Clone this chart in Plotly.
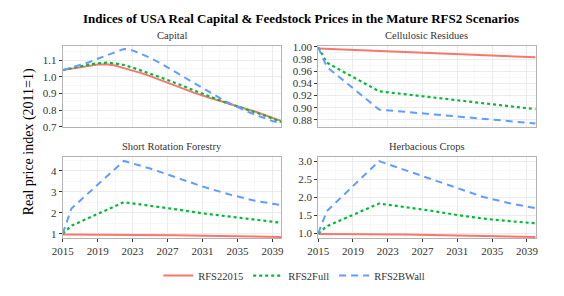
import plotly.graph_objects as go

# ---------------- data ----------------
series_names = ["RFS22015", "RFS2Full", "RFS2BWall"]

years_cap = list(range(2015, 2041))
cap_rfs22015 = [1.040, 1.049, 1.058, 1.066, 1.073, 1.075, 1.068, 1.052, 1.038, 1.022,
                1.004, 0.984, 0.963, 0.942, 0.923, 0.905, 0.888, 0.871, 0.854, 0.838,
                0.823, 0.807, 0.792, 0.774, 0.755, 0.735]
cap_rfs2full = [1.040, 1.052, 1.063, 1.073, 1.081, 1.085, 1.080, 1.071, 1.055, 1.038,
                1.019, 1.000, 0.981, 0.962, 0.940, 0.919, 0.898, 0.876, 0.858, 0.840,
                0.823, 0.806, 0.790, 0.770, 0.750, 0.729]
cap_rfs2bwall = [1.040, 1.055, 1.070, 1.087, 1.108, 1.129, 1.150, 1.167, 1.158, 1.138,
                 1.114, 1.087, 1.056, 1.023, 0.992, 0.961, 0.931, 0.901, 0.872, 0.844,
                 0.818, 0.795, 0.773, 0.752, 0.735, 0.721]

years_cell = [2015, 2016, 2022, 2040]
cell_rfs22015 = [0.9975, 0.9969, 0.9930, 0.9830]
cell_rfs2full = [0.9995, 0.9740, 0.9270, 0.8975]
cell_rfs2bwall = [0.9995, 0.9670, 0.8970, 0.8740]

years_feed = [2015, 2016, 2022, 2025, 2028, 2031, 2034, 2037, 2040]
srf_rfs22015 = [0.960, 0.960, 0.955, 0.945, 0.925, 0.905, 0.880, 0.860, 0.840]
srf_rfs2full = [1.00, 1.38, 2.50, 2.34, 2.16, 1.97, 1.82, 1.67, 1.52]
srf_rfs2bwall = [1.00, 2.20, 4.47, 4.11, 3.68, 3.25, 2.88, 2.57, 2.36]

herb_rfs22015 = [0.985, 0.985, 0.980, 0.970, 0.955, 0.940, 0.925, 0.910, 0.900]
herb_rfs2full = [1.00, 1.20, 1.83, 1.74, 1.63, 1.51, 1.41, 1.34, 1.28]
herb_rfs2bwall = [1.00, 1.62, 3.01, 2.76, 2.49, 2.24, 2.01, 1.84, 1.70]

panel_titles = ["Capital", "Cellulosic Residues", "Short Rotation Forestry", "Herbacious Crops"]
x_tick_vals = [2015, 2019, 2023, 2027, 2031, 2035, 2039]

# ---------------- styling ----------------
W, H = 564, 296
FONT = "Liberation Serif, Times New Roman, serif"
colors = ["#F8766D", "#00BA38", "#619CFF"]
dashes = ["solid", "3px,3px", "7px,5px"]
widths = [2.0, 2.2, 2.0]

def px_x(a, b):
    return [a / W, b / W]

def px_y(top, bottom):
    return [1 - bottom / H, 1 - top / H]

panels = [
    dict(x=(53, 277), y=(42, 126), years=years_cap,
         data=[cap_rfs22015, cap_rfs2full, cap_rfs2bwall],
         yrange=[0.697, 1.182], ytick=[0.7, 0.8, 0.9, 1.0, 1.1], fmt=".1f", bottom=False),
    dict(x=(315, 538), y=(42, 126), years=years_cell,
         data=[cell_rfs22015, cell_rfs2full, cell_rfs2bwall],
         yrange=[0.8677, 1.0008], ytick=[0.88, 0.90, 0.92, 0.94, 0.96, 0.98, 1.00], fmt=".2f", bottom=False),
    dict(x=(53, 277), y=(157, 241), years=years_feed,
         data=[srf_rfs22015, srf_rfs2full, srf_rfs2bwall],
         yrange=[0.79, 4.65], ytick=[1, 2, 3, 4], fmt="d", bottom=True),
    dict(x=(315, 538), y=(157, 241), years=years_feed,
         data=[herb_rfs22015, herb_rfs2full, herb_rfs2bwall],
         yrange=[0.87, 3.12], ytick=[1.0, 1.5, 2.0, 2.5, 3.0], fmt=".1f", bottom=True),
]

fig = go.Figure()
layout = dict(
    width=W, height=H,
    margin=dict(l=0, r=0, t=0, b=0),
    paper_bgcolor="white", plot_bgcolor="white",
    font=dict(family=FONT, size=10, color="#333333"),
    showlegend=True,
    legend=dict(orientation="h", x=0.515, xanchor="center", y=1 - 280 / H, yanchor="middle",
                font=dict(family=FONT, size=10.5, color="#333333"), bgcolor="rgba(0,0,0,0)",
                itemwidth=30, tracegroupgap=0),
)

annotations = []
for i, p in enumerate(panels):
    k = "" if i == 0 else str(i + 1)
    xa, ya = "x" + k, "y" + k
    for s in range(3):
        fig.add_trace(go.Scatter(
            x=p["years"], y=p["data"][s], mode="lines", name=series_names[s],
            legendgroup=series_names[s], showlegend=(i == 0),
            line=dict(color=colors[s], width=widths[s], dash=dashes[s]),
            xaxis=xa, yaxis=ya))
    tvals = p["ytick"]
    if p["fmt"] == "d":
        ttext = [str(int(v)) for v in tvals]
    else:
        ttext = [format(v, p["fmt"]) for v in tvals]
    layout["xaxis" + k] = dict(
        domain=px_x(*p["x"]), range=[2015, 2040], anchor=ya,
        tickvals=x_tick_vals, ticktext=[str(v) for v in x_tick_vals],
        showticklabels=p["bottom"], ticks="outside" if p["bottom"] else "",
        ticklen=3, tickwidth=1, tickcolor="#333333",
        tickfont=dict(family=FONT, size=11, color="#333333"),
        showgrid=True, gridcolor="#EBEBEB", gridwidth=1,
        minor=dict(dtick=2, tick0=2015, showgrid=True, gridcolor="#F5F5F5", gridwidth=0.8),
        showline=True, mirror=True, linecolor="#B3B3B3", linewidth=1,
        zeroline=False, fixedrange=True,
    )
    minor_step = (tvals[1] - tvals[0]) / 2
    layout["yaxis" + k] = dict(
        domain=px_y(*p["y"]), range=p["yrange"], anchor=xa,
        tickvals=tvals, ticktext=ttext,
        ticks="outside", ticklen=3, tickwidth=1, tickcolor="#333333",
        tickfont=dict(family=FONT, size=11, color="#333333"),
        showgrid=True, gridcolor="#EBEBEB", gridwidth=1,
        minor=dict(dtick=minor_step, tick0=tvals[0], showgrid=True, gridcolor="#F5F5F5", gridwidth=0.8),
        showline=True, mirror=True, linecolor="#B3B3B3", linewidth=1,
        zeroline=False, fixedrange=True,
    )
    cx = (p["x"][0] + p["x"][1]) / 2 / W
    cy = 1 - (p["y"][0] - 11) / H
    annotations.append(dict(text=panel_titles[i], x=cx, y=cy, xref="paper", yref="paper",
                            xanchor="center", yanchor="middle", showarrow=False,
                            font=dict(family=FONT, size=10.5, color="#333333")))

annotations.append(dict(text="<b>Indices of USA Real Capital &amp; Feedstock Prices in the Mature RFS2 Scenarios</b>",
                        x=297 / W, y=1 - 12.5 / H, xref="paper", yref="paper",
                        xanchor="center", yanchor="middle", showarrow=False,
                        font=dict(family=FONT, size=13, color="black")))
annotations.append(dict(text="Real price index (2011=1)", x=18 / W, y=1 - 141 / H,
                        xref="paper", yref="paper", xanchor="center", yanchor="middle",
                        textangle=-90, showarrow=False,
                        font=dict(family=FONT, size=14, color="black")))
layout["annotations"] = annotations

fig.update_layout(**layout)
fig.write_html("out.html",
               config={"displayModeBar": False, "staticPlot": True},
               post_script="document.body.style.margin='0';document.body.style.overflow='hidden';")
